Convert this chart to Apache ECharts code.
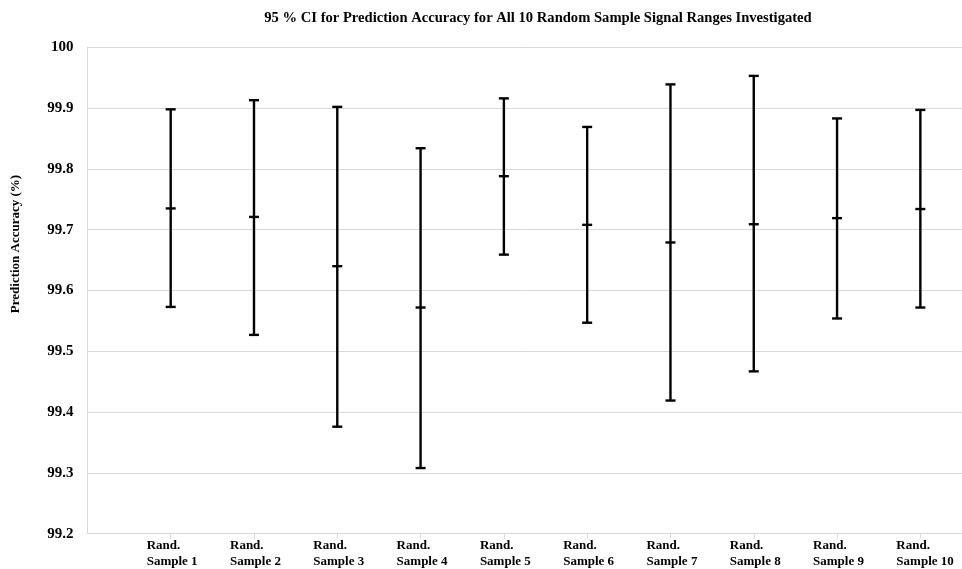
<!DOCTYPE html>
<html>
<head>
<meta charset="utf-8">
<script src="https://cdn.jsdelivr.net/npm/echarts@6/dist/echarts.min.js"></script>
<style>html,body{margin:0;padding:0;background:#fff;}#c{width:962px;height:569px;}</style>
</head>
<body>
<div id="c"></div>
<script>
var categories = ['Rand. Sample 1','Rand. Sample 2','Rand. Sample 3','Rand. Sample 4','Rand. Sample 5','Rand. Sample 6','Rand. Sample 7','Rand. Sample 8','Rand. Sample 9','Rand. Sample 10'];
var upper = [99.898, 99.913, 99.902, 99.834, 99.916, 99.869, 99.939, 99.953, 99.883, 99.897];
var mean  = [99.735, 99.721, 99.640, 99.572, 99.788, 99.708, 99.679, 99.709, 99.719, 99.734];
var lower = [99.573, 99.527, 99.376, 99.308, 99.659, 99.547, 99.419, 99.467, 99.554, 99.572];
var yTicks = [99.2, 99.3, 99.4, 99.5, 99.6, 99.7, 99.8, 99.9, 100];

var FONT = '"Liberation Serif","Times New Roman",serif';
var chart = echarts.init(document.getElementById('c'));
var data = categories.map(function (c, i) { return [i + 1, lower[i], mean[i], upper[i]]; });

chart.setOption({
  animation: false,
  backgroundColor: '#fff',
  title: {
    text: '95 % CI for Prediction Accuracy for All 10 Random Sample Signal Ranges Investigated',
    left: 533, top: 6, textAlign: 'center',
    textStyle: { fontFamily: FONT, fontWeight: 'bold', fontSize: 14.6, color: '#000' }
  },
  grid: { left: 87.4, right: 0, top: 47.3, bottom: 35.3, containLabel: false },
  xAxis: {
    type: 'value', min: 0, max: 10.5, interval: 1,
    splitLine: { show: false },
    axisLine: { lineStyle: { color: '#d9d9d9', width: 1 } },
    axisTick: { show: true, length: 5, lineStyle: { color: '#d9d9d9' } },
    axisLabel: {
      margin: 4, showMaxLabel: false, showMinLabel: false,
      formatter: function (v) {
        var i = Math.round(v);
        if (Math.abs(v - i) > 1e-6 || i < 1 || i > categories.length) return '';
        var parts = categories[i - 1].split(' ');
        return '{a|' + parts[0] + '}\n{a|' + parts.slice(1).join(' ') + '}';
      },
      rich: { a: { fontFamily: FONT, fontWeight: 'bold', fontSize: 13, color: '#000', width: 48, align: 'left', lineHeight: 16 } }
    }
  },
  yAxis: {
    type: 'value', min: yTicks[0], max: yTicks[yTicks.length - 1], interval: 0.1,
    axisLine: { show: true, lineStyle: { color: '#d9d9d9', width: 1 } },
    axisTick: { show: false },
    splitLine: { lineStyle: { color: '#d9d9d9', width: 1 } },
    axisLabel: {
      margin: 14, fontFamily: FONT, fontWeight: 'bold', fontSize: 15, color: '#000',
      formatter: function (v) { return String(Math.round(v * 10) / 10); }
    }
  },
  graphic: [{
    type: 'text', x: 16, y: 244, rotation: Math.PI / 2,
    style: { text: 'Prediction Accuracy (%)', font: 'bold 13px ' + FONT, fill: '#000', align: 'center', verticalAlign: 'middle' }
  }],
  series: [{
    type: 'custom',
    data: data,
    renderItem: function (params, api) {
      var x = api.value(0);
      var lo = api.coord([x, api.value(1)]);
      var mi = api.coord([x, api.value(2)]);
      var hi = api.coord([x, api.value(3)]);
      var hw = 5;
      var st = { stroke: '#000', lineWidth: 2.4, fill: null };
      return {
        type: 'group',
        children: [
          { type: 'line', shape: { x1: hi[0], y1: hi[1], x2: lo[0], y2: lo[1] }, style: st },
          { type: 'line', shape: { x1: hi[0] - hw, y1: hi[1], x2: hi[0] + hw, y2: hi[1] }, style: st },
          { type: 'line', shape: { x1: lo[0] - hw, y1: lo[1], x2: lo[0] + hw, y2: lo[1] }, style: st },
          { type: 'line', shape: { x1: mi[0] - hw, y1: mi[1], x2: mi[0] + hw, y2: mi[1] }, style: st }
        ]
      };
    }
  }]
});
</script>
</body>
</html>
